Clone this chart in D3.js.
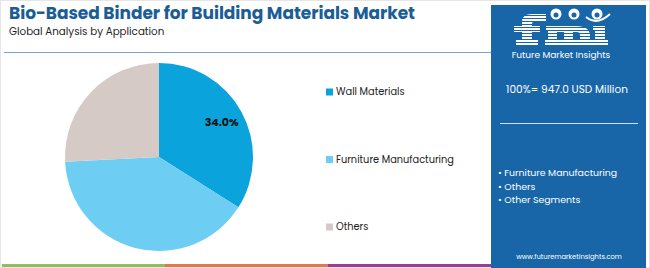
<!DOCTYPE html>
<html><head><meta charset="utf-8">
<script src="https://cdn.jsdelivr.net/npm/d3@7"></script>
<style>
body{margin:0;background:#fff;}
svg{display:block;font-family:Poppins,"Open Sans",Lato,sans-serif;}
</style></head>
<body><svg id="c" width="650" height="268"></svg>
<script>
const categories = ["Wall Materials", "Furniture Manufacturing", "Others"];
const values = [34.0, 40.2, 25.8];
const colors = ["#0aa3dc", "#6dcdf2", "#d5cac6"];
const labelShown = [true, false, false];
const title = "Bio-Based Binder for Building Materials Market";
const subtitle = "Global Analysis by Application";
const totalLabel = "100%= 947.0 USD Million";
const panelBullets = ["Furniture Manufacturing", "Others", "Other Segments"];
const stripeColors = ["#8fbf5a", "#e0794e", "#9b3f94"];

const svg = d3.select("#c");
const panelBlue = "#1866a8";
svg.append("rect").attr("x",0.5).attr("y",0.5).attr("width",649).attr("height",267)
  .attr("fill","#fff").attr("stroke","#e6e6e6");

svg.append("text").attr("x",9).attr("y",19).attr("fill","#1b5d96")
  .attr("font-size",17).attr("font-weight",700).attr("textLength",406).text(title);
svg.append("text").attr("x",9).attr("y",35).attr("fill","#222")
  .attr("font-size",10.3).text(subtitle);
svg.append("line").attr("x1",4).attr("x2",491).attr("y1",52.5).attr("y2",52.5)
  .attr("stroke","#7fa3c8").attr("stroke-width",1);

// bottom stripes
const sx = d3.scaleBand().domain(d3.range(stripeColors.length)).range([2,491]);
svg.selectAll("rect.st").data(stripeColors).join("rect").attr("class","st")
  .attr("x",(d,i)=>sx(i)).attr("width",sx.bandwidth()).attr("y",264).attr("height",3).attr("fill",d=>d);

// pie
const pie = d3.pie().sort(null).value(d=>d)(values);
const R = 94;
const arc = d3.arc().innerRadius(0).outerRadius(R);
const g = svg.append("g").attr("transform","translate(159,157)");
g.selectAll("path").data(pie).join("path").attr("d",arc).attr("fill",(d,i)=>colors[i]);
const lab = d3.arc().innerRadius(R*0.76).outerRadius(R*0.76);
g.selectAll("text").data(pie.filter((d,i)=>labelShown[i])).join("text")
  .attr("transform",d=>{const c=lab.centroid(d);return `translate(${c[0]},${c[1]})`;})
  .attr("text-anchor","middle").attr("dy","0.35em").attr("font-size",11).attr("font-weight",700)
  .attr("fill","#111").text(d=>d.value.toFixed(1)+"%");

// legend
const ly = d3.scalePoint().domain(categories).range([92,227]);
const lg = svg.append("g");
categories.forEach((c,i)=>{
  lg.append("rect").attr("x",326).attr("y",ly(c)-3.5).attr("width",7).attr("height",7).attr("fill",colors[i]);
  lg.append("text").attr("x",336).attr("y",ly(c)).attr("dy","0.35em").attr("font-size",9.8).attr("fill","#222").text(c);
});

// right panel
svg.append("rect").attr("x",491).attr("y",5).attr("width",155).attr("height",263).attr("fill",panelBlue);
const logo = svg.append("g").attr("fill","#fff");
// f
logo.append("path").attr("d","M522,45 L522,22 Q522,14 532,14 L546,14 L546,21 L536,21 Q532,21 532,24 L532,45 Z");
logo.append("rect").attr("x",514).attr("y",26).attr("width",26).attr("height",6);
logo.append("rect").attr("x",516).attr("y",40).attr("width",22).attr("height",5);
// m
logo.append("path").attr("d","M546,26 L576,26 Q590,26 590,36 L590,45 L580,45 L580,35 Q580,32 577,32 L573,32 L573,45 L564,45 L564,32 L557,32 L557,45 L548,45 L548,31 L546,31 Z");
logo.append("rect").attr("x",545).attr("y",40).attr("width",48).attr("height",5);
// i
logo.append("rect").attr("x",595).attr("y",26).attr("width",10).attr("height",19);
logo.append("rect").attr("x",592).attr("y",40).attr("width",16).attr("height",5);
logo.append("rect").attr("x",593).attr("y",26).attr("width",12).attr("height",5);
d3.range(15,46,3).forEach(y=>{
  logo.append("line").attr("x1",510).attr("x2",616).attr("y1",y+0.5).attr("y2",y+0.5)
    .attr("stroke",panelBlue).attr("stroke-width",1);
});
[[556,14],[574,14],[597,14]].forEach(p=>{
  logo.append("circle").attr("cx",p[0]).attr("cy",p[1]).attr("r",5.5).attr("fill","#fff");
  logo.append("circle").attr("cx",p[0]).attr("cy",p[1]+1).attr("r",2.5).attr("fill",panelBlue);
});
logo.append("path").attr("d","M586,17 Q597,26 610,14").attr("fill","none").attr("stroke","#fff").attr("stroke-width",2);
svg.append("text").attr("x",561).attr("y",58).attr("text-anchor","middle").attr("fill","#fff")
  .attr("font-size",9).text("Future Market Insights");

svg.append("text").attr("x",567).attr("y",93).attr("text-anchor","middle").attr("fill","#fff")
  .attr("font-size",10.5).text(totalLabel);
svg.append("line").attr("x1",500).attr("x2",638).attr("y1",123.5).attr("y2",123.5)
  .attr("stroke","#cfe0f0").attr("stroke-width",1);
const by = d3.scalePoint().domain(panelBullets).range([173,200]);
panelBullets.forEach(b=>{
  svg.append("text").attr("x",498).attr("y",by(b)).attr("dy","0.35em").attr("fill","#fff")
    .attr("font-size",9.4).text("• "+b);
});
svg.append("text").attr("x",569).attr("y",259).attr("text-anchor","middle").attr("fill","#fff")
  .attr("font-size",6.8).text("www.futuremarketinsights.com");
</script></body></html>
